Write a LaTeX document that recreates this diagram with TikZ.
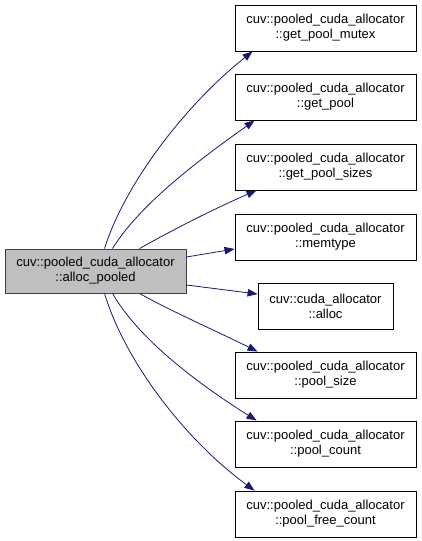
\documentclass[tikz,border=0pt]{standalone}
\usepackage{fontspec}
\setmainfont{Liberation Sans}
\usetikzlibrary{arrows.meta}
\definecolor{edgeblue}{RGB}{25,25,112}
\definecolor{srcfill}{RGB}{191,191,191}
\definecolor{srcborder}{RGB}{64,64,64}
\begin{document}
\begin{tikzpicture}[x=1pt,y=-1pt,
  box/.style={draw=black,line width=0.9pt,fill=white,minimum width=181pt,minimum height=46pt,
    inner sep=0pt,align=center,font=\fontsize{13}{15}\selectfont},
  srcbox/.style={box,fill=srcfill,draw=srcborder,minimum height=44pt},
  edge/.style={draw=edgeblue,line width=0.8pt,-{Triangle[length=10pt,width=7.5pt]}}]
\useasboundingbox (0,0) rectangle (421,541);
\node[srcbox] (src) at (95.5,271) {cuv::pooled\_cuda\_allocator\\::alloc\_pooled};
\node[box] (t1) at (325.5,28) {cuv::pooled\_cuda\_allocator\\::get\_pool\_mutex};
\node[box] (t2) at (325.5,97) {cuv::pooled\_cuda\_allocator\\::get\_pool};
\node[box] (t3) at (325.5,167) {cuv::pooled\_cuda\_allocator\\::get\_pool\_sizes};
\node[box] (t4) at (325.5,237) {cuv::pooled\_cuda\_allocator\\::memtype};
\node[box,minimum width=135pt] (t5) at (325.5,306) {cuv::cuda\_allocator\\::alloc};
\node[box] (t6) at (325.5,375) {cuv::pooled\_cuda\_allocator\\::pool\_size};
\node[box] (t7) at (325.5,444) {cuv::pooled\_cuda\_allocator\\::pool\_count};
\node[box] (t8) at (325.5,514) {cuv::pooled\_cuda\_allocator\\::pool\_free\_count};
\draw[edge] ([xshift=100pt]src.north west) .. controls +(20,-64) and +(-68,54) .. ([xshift=18pt]t1.south west);
\draw[edge] ([xshift=108pt]src.north west) .. controls +(27,-44) and +(-55,39) .. ([xshift=20pt]t2.south west);
\draw[edge] ([xshift=135pt]src.north west) .. controls +(30,-17) and +(-42,18) .. ([xshift=22pt]t3.south west);
\draw[edge] ([yshift=14pt]src.east) -- ([yshift=-12pt]t4.west);
\draw[edge] ([yshift=-14pt]src.east) -- ([yshift=12pt]t5.west);
\draw[edge] ([xshift=135pt]src.south west) .. controls +(30,17) and +(-38,-19) .. ([xshift=23pt]t6.north west);
\draw[edge] ([xshift=108pt]src.south west) .. controls +(27,47) and +(-57,-36) .. ([xshift=22pt]t7.north west);
\draw[edge] ([xshift=100pt]src.south west) .. controls +(20,67) and +(-70,-51) .. ([xshift=20pt]t8.north west);
\end{tikzpicture}
\end{document}
